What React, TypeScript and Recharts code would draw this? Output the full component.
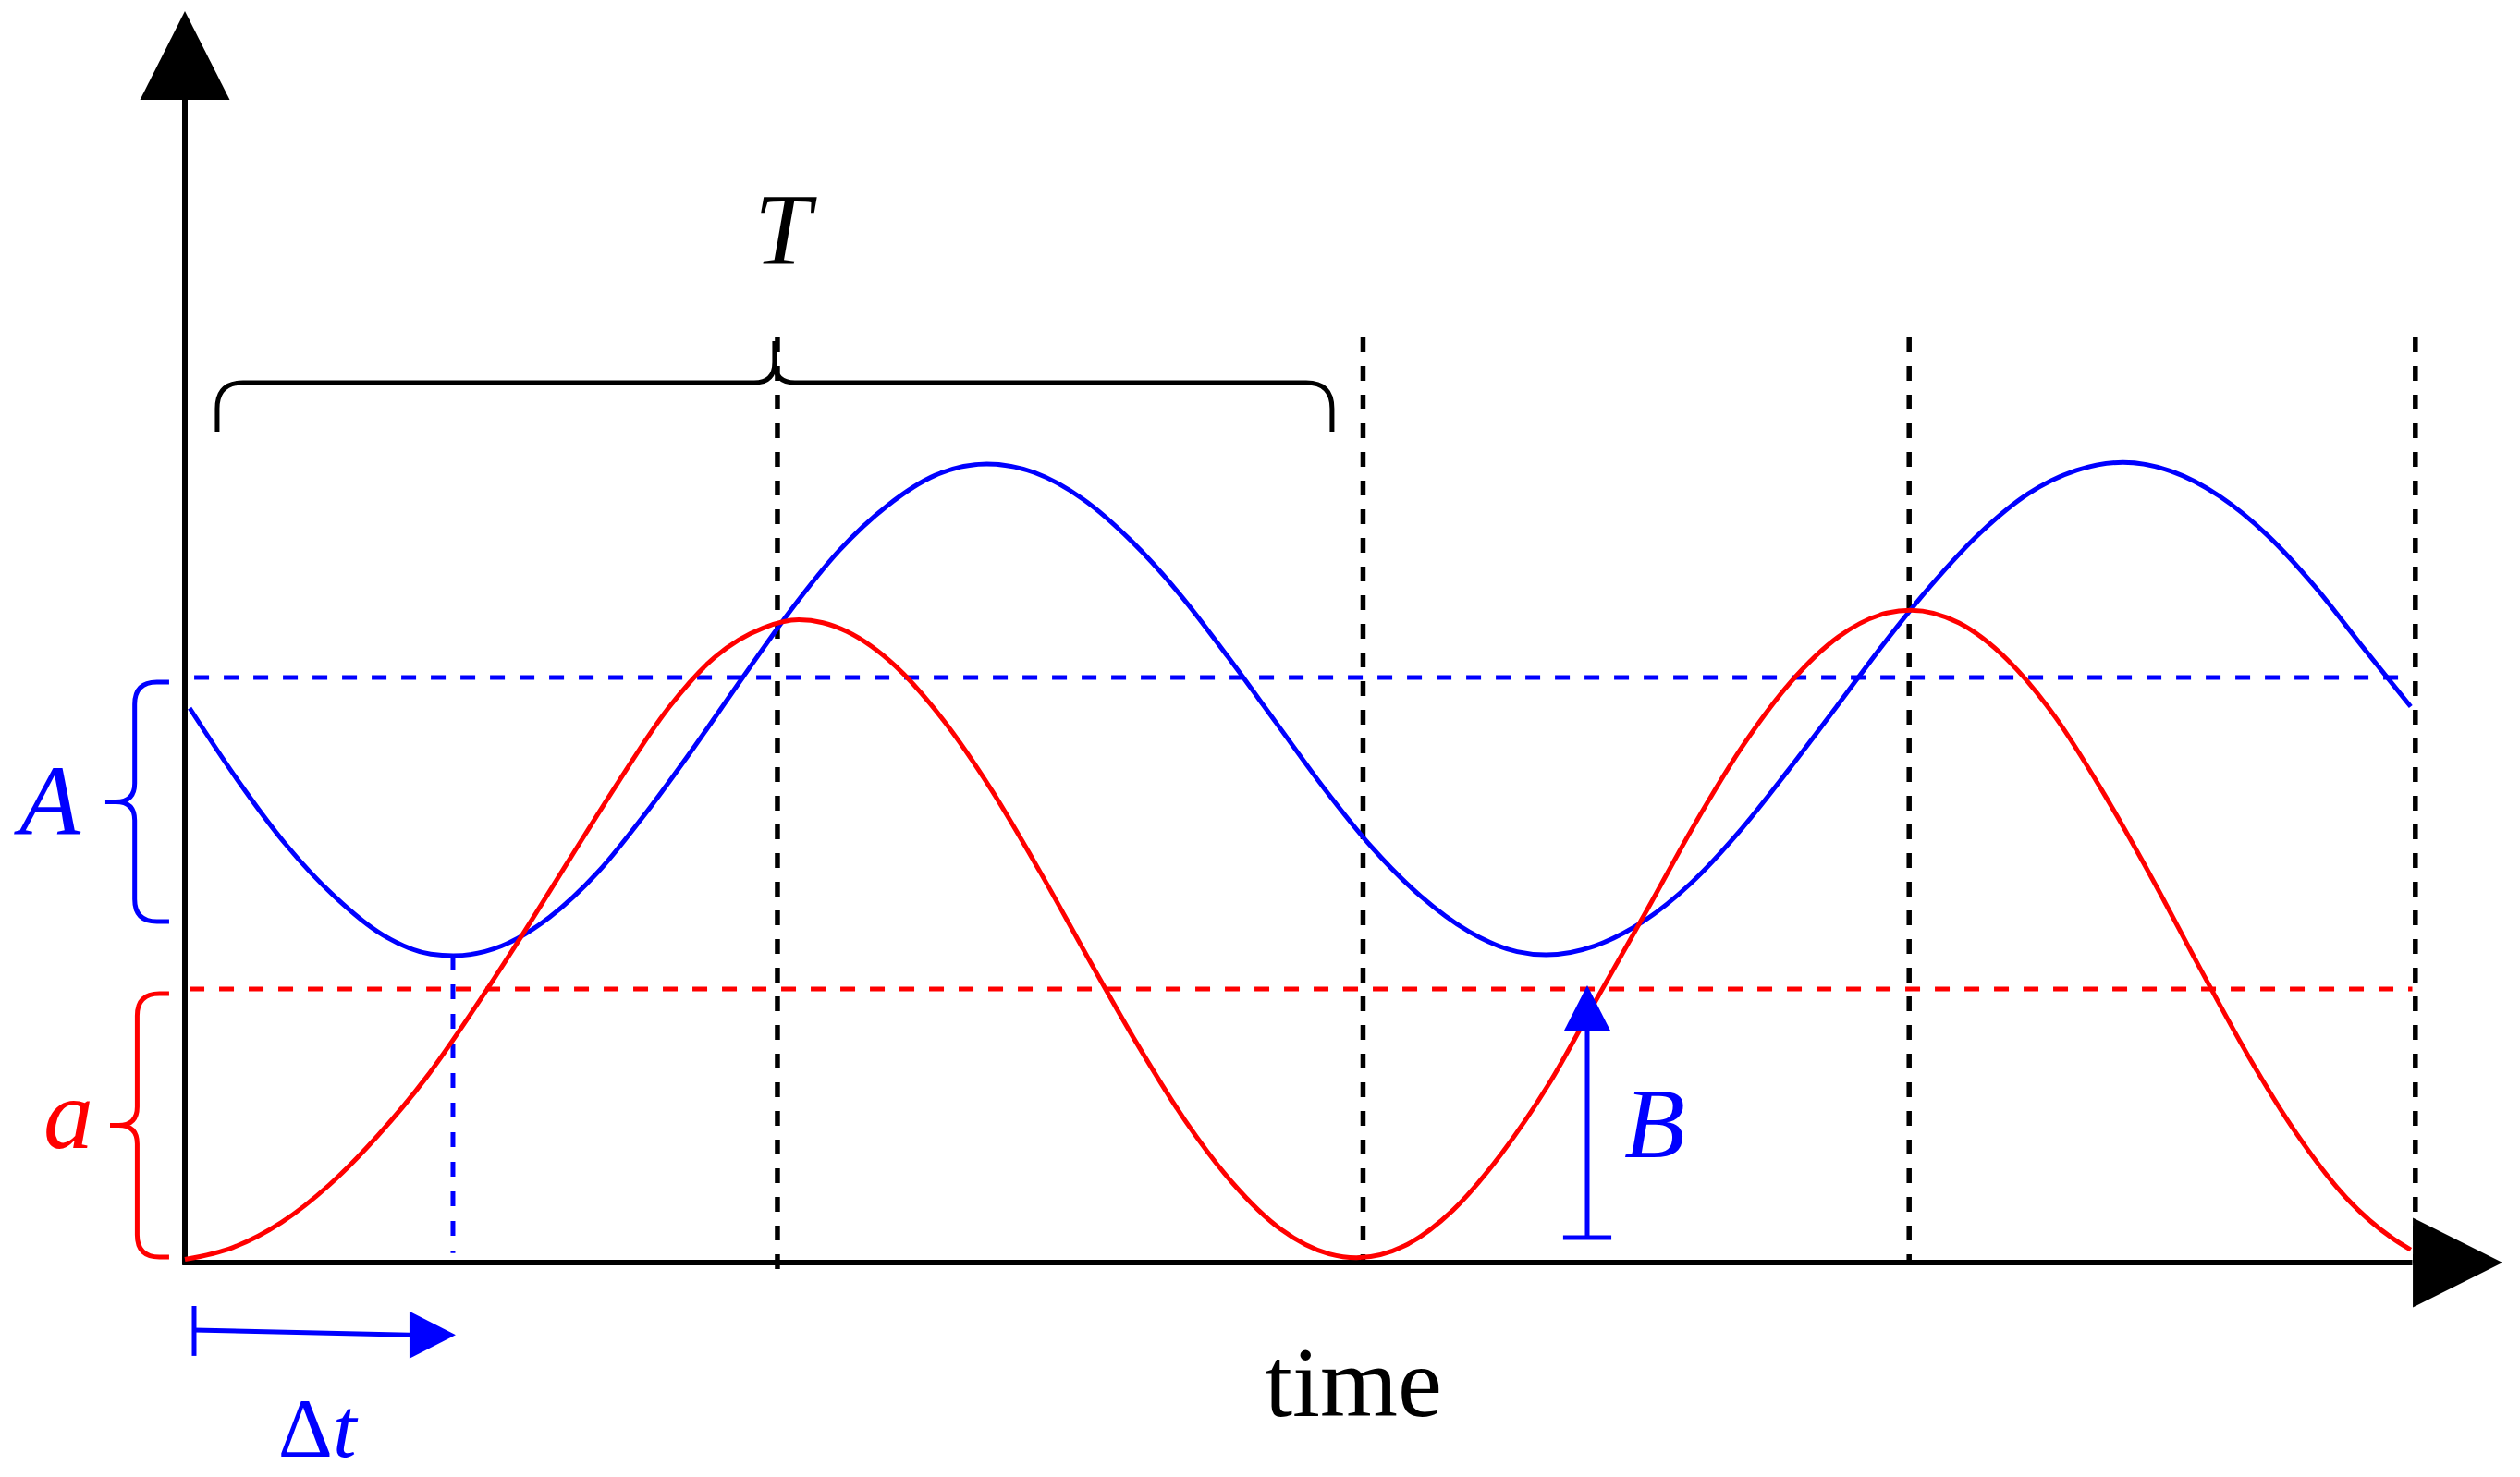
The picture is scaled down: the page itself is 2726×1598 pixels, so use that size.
import { LineChart, Line, XAxis, YAxis, ReferenceLine, ReferenceDot, ReferenceArea } from 'recharts';

// readings (time / value in drawing units)
const redT = [0, 30, 60, 90, 120, 150, 180, 210, 240, 270, 300, 330, 360, 382, 397, 412, 427, 442, 472, 502, 532, 562, 592, 622, 652, 682, 712, 729, 759, 789, 819, 849, 879, 909, 939, 969, 999, 1029, 1059, 1074, 1104, 1134, 1164, 1194, 1224, 1254, 1284, 1314, 1344, 1374, 1385];
const redV = [2, 9.5, 25, 48.5, 79, 115, 158, 204, 252, 299.5, 344, 377, 395, 400, 398.2, 392.7, 383.7, 371.4, 337.5, 294, 243.4, 189.6, 137, 89, 49.5, 20.7, 5.4, 3, 10.5, 32.6, 67.5, 111.6, 165, 218, 272, 321, 361, 389.5, 404.2, 406, 398, 375.2, 339.3, 292, 239.2, 183, 128.5, 80.2, 41.3, 14.9, 8];

const blueT = [3, 33, 63, 93, 123, 153, 167, 197, 227, 257, 287, 317, 347, 377, 407, 437, 467, 499, 529, 559, 589, 619, 649, 679, 709, 739, 769, 799, 829, 847, 877, 907, 937, 967, 997, 1027, 1057, 1087, 1117, 1147, 1177, 1206, 1236, 1266, 1296, 1326, 1356, 1385];
const blueV = [345, 300, 260, 228, 204, 192, 191, 197, 215, 243, 280, 321, 364, 406, 443, 471, 490, 497, 491.5, 475, 449, 416, 377, 336, 295, 258, 228, 206, 193.5, 191.5, 197, 212, 236, 268, 305.5, 345, 385, 422, 454, 478.5, 493, 498, 492.5, 477, 452.5, 420, 382, 346];

// reference levels and marker times
const levelA = 364.1;      // blue mean (dashed)
const levela = 170.3;      // red mean (dashed)
const periodMarks = [368.7, 733.1, 1072.9, 1387.9];
const blueMinT = 166.8;
const blueMinV = 191.5;
const bT = 872.6;

const redData = redT.map((t, i) => ({ t, v: redV[i] }));
const blueData = blueT.map((t, i) => ({ t, v: blueV[i] }));

const BLUE = '#0000ff';
const RED = '#ff0000';
const SERIF = "'Liberation Serif', 'DejaVu Serif', serif";

const arrowHead = (dir: 'up' | 'right', len: number, half: number, color: string) => (p: any) => {
  const { cx, cy } = p;
  const pts = dir === 'up'
    ? `${cx},${cy} ${cx - half},${cy + len} ${cx + half},${cy + len}`
    : `${cx},${cy} ${cx - len},${cy - half} ${cx - len},${cy + half}`;
  return <polygon points={pts} fill={color} />;
};

const textMark = (label: any, size: number, color: string, italic = true) => (p: any) => (
  <text x={p.cx} y={p.cy} textAnchor="middle" fontFamily={SERIF} fontSize={size}
    fontStyle={italic ? 'italic' : 'normal'} fill={color}>{label}</text>
);

// brace opening to the right, tip on the left
const vBrace = (color: string) => (p: any) => {
  const { x, y, width, height } = p;
  const xe = x + width, xt = x, xs = x + width * 0.46, ym = y + height / 2, yb = y + height;
  const r = 24, r2 = 20;
  const d = `M${xe},${y} L${xs + r},${y} Q${xs},${y} ${xs},${y + r} L${xs},${ym - r2} Q${xs},${ym} ${xs - r2},${ym} L${xt},${ym}`
    + ` M${xs - r2},${ym} Q${xs},${ym} ${xs},${ym + r2} L${xs},${yb - r} Q${xs},${yb} ${xs + r},${yb} L${xe},${yb}`;
  return <path d={d} fill="none" stroke={color} strokeWidth={5} />;
};

// brace opening downward, tip on top
const hBrace = (color: string) => (p: any) => {
  const { x, y, width, height } = p;
  const xr = x + width, cx = x + width / 2, ys = y + height * 0.46, yb = y + height;
  const r = 28, r2 = 22;
  const d = `M${x},${yb} L${x},${ys + r} Q${x},${ys} ${x + r},${ys} L${cx - r2},${ys} Q${cx},${ys} ${cx},${ys - r2} L${cx},${y}`
    + ` M${cx},${ys - r2} Q${cx},${ys} ${cx + r2},${ys} L${xr - r},${ys} Q${xr},${ys} ${xr},${ys + r} L${xr},${yb}`;
  return <path d={d} fill="none" stroke={color} strokeWidth={5} />;
};

export default function App() {
  return (
    <LineChart width={2710} height={1590} margin={{ top: 4, right: 8, bottom: 12, left: 0 }}>
      <XAxis type="number" dataKey="t" domain={[-110.44, 1443.8]} hide allowDataOverflow />
      <YAxis type="number" dataKey="v" domain={[-126.5, 778.8]} hide allowDataOverflow />

      {/* dashed guides */}
      <ReferenceLine segment={[{ x: 5.8, y: levelA }, { x: 1386, y: levelA }]} stroke={BLUE} strokeWidth={5} strokeDasharray="16 16" ifOverflow="visible" />
      <ReferenceLine segment={[{ x: 2.9, y: levela }, { x: 1386, y: levela }]} stroke={RED} strokeWidth={5} strokeDasharray="16 16" ifOverflow="visible" />
      <ReferenceLine segment={[{ x: blueMinT, y: blueMinV }, { x: blueMinT, y: 6 }]} stroke={BLUE} strokeWidth={5} strokeDasharray="16 16" ifOverflow="visible" />
      {periodMarks.map((t, i) => (
        <ReferenceLine key={t} segment={[{ x: t, y: 575.8 }, { x: t, y: i === 0 ? -4 : 0 }]} stroke="#000" strokeWidth={5.5} strokeDasharray="16 15" ifOverflow="visible" />
      ))}

      {/* axes */}
      <ReferenceLine segment={[{ x: 0, y: -1.5 }, { x: 0, y: 723.6 }]} stroke="#000" strokeWidth={6} ifOverflow="visible" />
      <ReferenceLine segment={[{ x: -1.4, y: 0 }, { x: 1386, y: 0 }]} stroke="#000" strokeWidth={6} ifOverflow="visible" />
      <ReferenceDot x={0} y={778.8} shape={arrowHead('up', 96, 48.5, '#000')} ifOverflow="visible" />
      <ReferenceDot x={1442.1} y={0} shape={arrowHead('right', 97, 48.5, '#000')} ifOverflow="visible" />

      <Line data={blueData} dataKey="v" type="monotone" stroke={BLUE} strokeWidth={5} dot={false} activeDot={false} isAnimationActive={false} />
      <Line data={redData} dataKey="v" type="monotone" stroke={RED} strokeWidth={5} dot={false} activeDot={false} isAnimationActive={false} />

      {/* braces */}
      <ReferenceArea x1={20.1} x2={713.8} y1={517.1} y2={573.5} shape={hBrace('#000')} ifOverflow="visible" />
      <ReferenceArea x1={-49.5} x2={-9.8} y1={212.3} y2={361.2} shape={vBrace(BLUE)} ifOverflow="visible" />
      <ReferenceArea x1={-46.6} x2={-9.8} y1={3.5} y2={167.4} shape={vBrace(RED)} ifOverflow="visible" />

      {/* B arrow */}
      <ReferenceLine segment={[{ x: bT, y: 15.5 }, { x: bT, y: 144 }]} stroke={BLUE} strokeWidth={5} ifOverflow="visible" />
      <ReferenceLine segment={[{ x: bT - 15, y: 15.5 }, { x: bT + 15, y: 15.5 }]} stroke={BLUE} strokeWidth={5} ifOverflow="visible" />
      <ReferenceDot x={bT} y={172.6} shape={arrowHead('up', 50, 25.5, BLUE)} ifOverflow="visible" />

      {/* delta t arrow */}
      <ReferenceLine segment={[{ x: 5.75, y: -42 }, { x: 140, y: -44.9 }]} stroke={BLUE} strokeWidth={5} ifOverflow="visible" />
      <ReferenceLine segment={[{ x: 5.75, y: -27 }, { x: 5.75, y: -58 }]} stroke={BLUE} strokeWidth={5} ifOverflow="visible" />
      <ReferenceDot x={168.5} y={-44.9} shape={arrowHead('right', 50, 25.5, BLUE)} ifOverflow="visible" />

      {/* labels */}
      <ReferenceDot x={372} y={621} shape={textMark('T', 110, '#000')} ifOverflow="visible" />
      <ReferenceDot x={-84} y={266.3} shape={textMark('A', 108, BLUE)} ifOverflow="visible" />
      <ReferenceDot x={-72.5} y={71.3} shape={textMark('a', 108, RED)} ifOverflow="visible" />
      <ReferenceDot x={914.6} y={65.6} shape={textMark('B', 108, BLUE)} ifOverflow="visible" />
      <ReferenceDot x={727} y={-95.5} shape={textMark('time', 108, '#000', false)} ifOverflow="visible" />
      <ReferenceDot x={82.3} y={-120.5}
        shape={textMark(<><tspan fontStyle="normal">Δ</tspan><tspan fontStyle="italic">t</tspan></>, 92, BLUE, false)}
        ifOverflow="visible" />
    </LineChart>
  );
}
